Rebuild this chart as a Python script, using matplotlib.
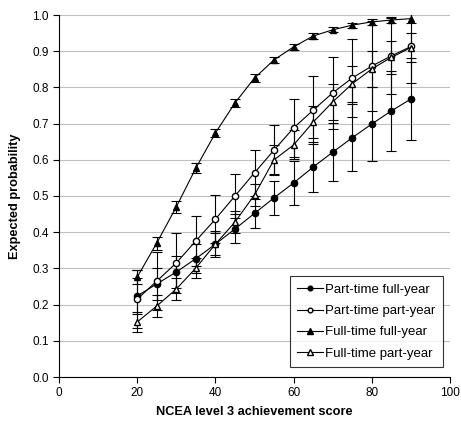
import matplotlib
matplotlib.use('Agg')
import matplotlib.pyplot as plt
from matplotlib.lines import Line2D

plt.rcParams['font.family'] = ['Liberation Sans', 'DejaVu Sans']

# achievement scores
scores = [20, 25, 30, 35, 40, 45, 50, 55, 60, 65, 70, 75, 80, 85, 90]

# expected probabilities per group
pt_fy = [0.224, 0.257, 0.290, 0.327, 0.367, 0.409, 0.452, 0.495, 0.536, 0.580, 0.621, 0.661, 0.699, 0.735, 0.768]
pt_py = [0.215, 0.265, 0.315, 0.376, 0.436, 0.500, 0.564, 0.627, 0.688, 0.737, 0.785, 0.826, 0.859, 0.887, 0.913]
ft_fy = [0.276, 0.370, 0.470, 0.577, 0.674, 0.757, 0.826, 0.876, 0.912, 0.942, 0.959, 0.972, 0.981, 0.986, 0.990]
ft_py = [0.152, 0.196, 0.243, 0.301, 0.367, 0.428, 0.503, 0.600, 0.641, 0.704, 0.760, 0.810, 0.851, 0.883, 0.910]

# error bar half widths
pt_fy_err = [0.05, 0.045, 0.045, 0.04, 0.036, 0.04, 0.041, 0.047, 0.06, 0.068, 0.08, 0.092, 0.102, 0.111, 0.113]
pt_py_err = [0.08, 0.08, 0.083, 0.07, 0.067, 0.06, 0.063, 0.07, 0.08, 0.094, 0.10, 0.108, 0.124, 0.105, 0.10]
ft_fy_err = [0.02, 0.018, 0.016, 0.014, 0.012, 0.01, 0.01, 0.008, 0.008, 0.007, 0.007, 0.007, 0.008, 0.009, 0.012]
ft_py_err = [0.028, 0.03, 0.03, 0.028, 0.03, 0.03, 0.03, 0.04, 0.04, 0.045, 0.05, 0.05, 0.05, 0.045, 0.04]

labels = ['Part-time full-year', 'Part-time part-year', 'Full-time full-year', 'Full-time part-year']
series = [pt_fy, pt_py, ft_fy, ft_py]
errors = [pt_fy_err, pt_py_err, ft_fy_err, ft_py_err]
markers = ['o', 'o', '^', '^']
fills = ['black', 'white', 'black', 'white']
sizes = [4.5, 4.5, 5, 5]

fig = plt.figure(figsize=(4.61, 4.28), dpi=100)
ax = fig.add_axes([59 / 461, 1 - 377 / 428, (450 - 59) / 461, (377 - 15) / 428])

handles = []
for vals, err, m, fc, ms, lab in zip(series, errors, markers, fills, sizes, labels):
    ax.errorbar(scores, vals, yerr=err, color='black', linewidth=0.8, elinewidth=0.8,
                capsize=3.5, capthick=0.8, marker=m, markersize=ms,
                markerfacecolor=fc, markeredgecolor='black')
    handles.append(Line2D([], [], color='black', linewidth=0.8, marker=m, markersize=ms * 0.75,
                          markerfacecolor=fc, markeredgecolor='black', label=lab))

ax.set_xlim(0, 100)
ax.set_ylim(0, 1.0)
ax.set_xticks(range(0, 101, 20))
ax.set_yticks([i / 10 for i in range(11)])
ax.set_yticklabels(['%.1f' % (i / 10) for i in range(11)])
ax.grid(axis='y', color='#c0c0c0', linewidth=0.8)
ax.set_axisbelow(True)
for s in ['top', 'right']:
    ax.spines[s].set_visible(False)
for s in ['left', 'bottom']:
    ax.spines[s].set_color('black')
    ax.spines[s].set_linewidth(0.8)
ax.tick_params(labelsize=8.5, direction='out', length=4, width=0.8)

ax.set_xlabel('NCEA level 3 achievement score', fontsize=9.2, fontweight='bold', labelpad=5)
ax.set_ylabel('Expected probability', fontsize=9.2, fontweight='bold', labelpad=8)

leg = ax.legend(handles=handles, loc='lower right', bbox_to_anchor=(0.982, 0.028), fontsize=9.5,
                fancybox=False, frameon=True, handlelength=2.0, handletextpad=0.15,
                borderpad=0.55, labelspacing=0.68, borderaxespad=0)
leg.get_frame().set_edgecolor('black')
leg.get_frame().set_linewidth(0.8)

fig.savefig('out.png', dpi=100)
